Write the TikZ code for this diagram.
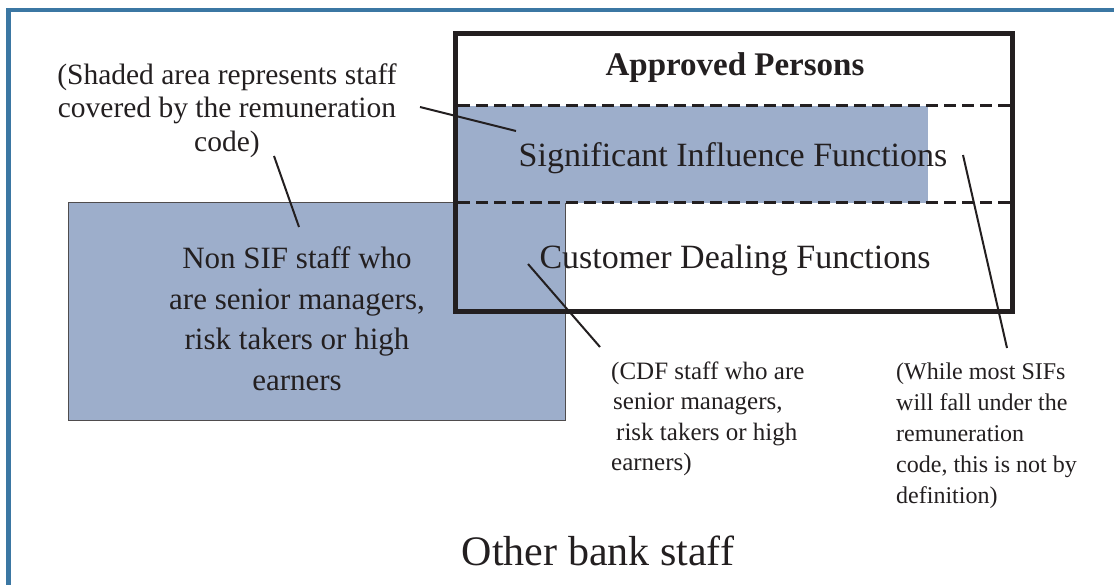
\documentclass[tikz,border=0pt]{standalone}
\usepackage{fontspec}
\setmainfont{Liberation Serif}
\usepackage{tikz}
\definecolor{shadeblue}{HTML}{9DAECB}
\definecolor{bankblue}{HTML}{3B77A3}
\definecolor{ink}{HTML}{231F20}

\begin{document}
\begin{tikzpicture}[x=1pt,y=-1pt]
    \useasboundingbox (0,0) rectangle (1114,585);
    \tikzstyle{Note}=[inner sep=0pt,text=ink]
    \tikzstyle{Pointer}=[draw=ink,line width=2pt]
    \tikzstyle{Divider}=[draw=ink,line width=3pt,dash pattern=on 12pt off 6pt]
    \draw[bankblue,line width=4.5pt] (8.5,585) -- (8.5,10) -- (1114,10);
    \draw[fill=shadeblue,draw=ink!80,line width=1pt] (68,203) rectangle (565,420);
    \fill[shadeblue] (457,106) rectangle (928,203);
    \draw[ink,line width=5pt] (455,34) rectangle (1012,312);
    \draw[Divider] (458,106) -- (1010,106);
    \draw[Divider] (458,203) -- (1010,203);
    \node[Note,font=\bfseries\fontsize{33}{40}\selectfont] (ap) at (735,68) {Approved Persons};
    \node[Note,font=\fontsize{34}{40}\selectfont] (sif) at (733,158) {Significant Influence Functions};
    \node[Note,font=\fontsize{34}{40}\selectfont] (cdf) at (735,260) {Customer Dealing Functions};
    \node[Note,align=center,font=\fontsize{31}{40.5}\selectfont] (nonsif) at (297,318.5)
        {Non SIF staff who\\are senior managers,\\risk takers or high\\earners};
    \node[Note,align=center,font=\fontsize{29.5}{33.5}\selectfont] (shadenote) at (227,110.5)
        {(Shaded area represents staff\\covered by the remuneration\\code)};
    \node[Note,align=left,anchor=west,font=\fontsize{25}{30.5}\selectfont] (cdfnote) at (611,419)
        {(CDF staff who are\\\hspace{2pt}senior managers,\\\hspace{5pt}risk takers or high\\earners)};
    \node[Note,align=left,anchor=west,font=\fontsize{24}{31}\selectfont] (sifnote) at (896,435.5)
        {(While most SIFs\\will fall under the\\remuneration\\code, this is not by\\definition)};
    \node[Note,font=\fontsize{42}{48}\selectfont] (other) at (598,551) {Other bank staff};
    \coordinate (shadeA) at (420,107);
    \coordinate (shadeB) at (516,131);
    \coordinate (codeA) at (274,156);
    \coordinate (codeB) at (299,227);
    \coordinate (cdfA) at (528,264);
    \coordinate (cdfB) at (600,347);
    \coordinate (sifA) at (963,155);
    \coordinate (sifB) at (1007,348);
    \draw[Pointer] (shadeA) -- (shadeB);
    \draw[Pointer] (codeA) -- (codeB);
    \draw[Pointer] (cdfA) -- (cdfB);
    \draw[Pointer] (sifA) -- (sifB);
\end{tikzpicture}
\end{document}
